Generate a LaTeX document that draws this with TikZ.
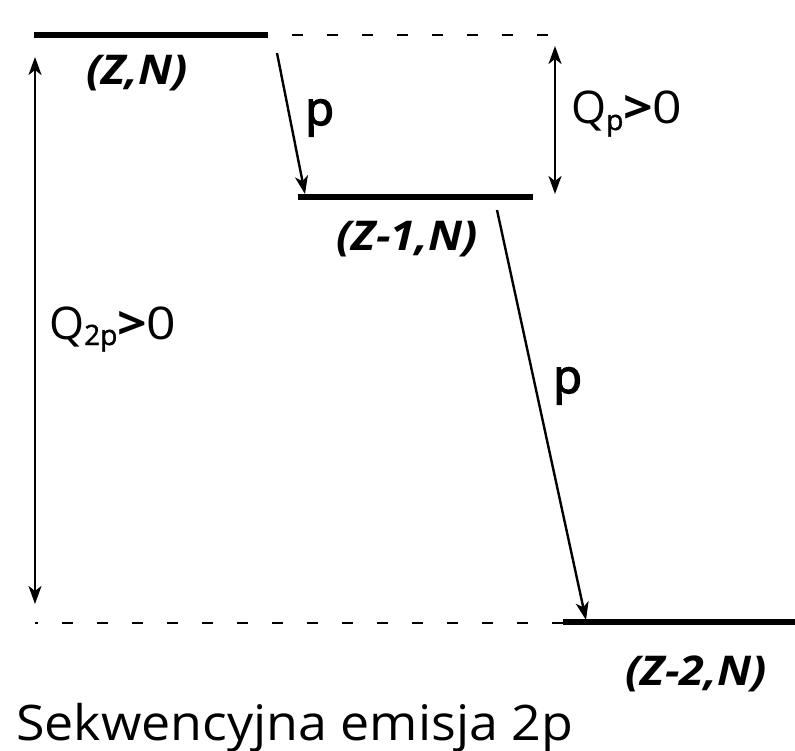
\documentclass[tikz,border=0pt]{standalone}
\usepackage{fontspec}
\usepackage{graphicx}
\setmainfont{Open Sans}
\newfontfamily\semibold[FakeBold=3]{Open Sans}
\newfontfamily\subbold[FakeBold=1.5]{Open Sans}
\usetikzlibrary{arrows.meta}
\newcommand\hstretch[2]{\scalebox{#1}[1]{#2}}
\newcommand\qsub[1]{\raisebox{-6pt}{{\fontsize{28}{28}\subbold #1}}}
\newcommand\qtail{\hstretch{1.15}{\bfseries >}\hstretch{1.15}{0}}
\begin{document}
\begin{tikzpicture}[x=1pt,y=-1pt,
  tip/.tip={Stealth[length=18pt,width=13pt,inset=5pt]},
  levelline/.style={line width=6.5pt},
  guide/.style={line width=2.2pt, dash pattern=on 11pt off 24pt},
  decay/.style={line width=2.4pt,-tip},
  gap/.style={line width=2.4pt,tip-tip},
  lvl/.style={font=\fontsize{41}{48}\selectfont\bfseries\itshape, anchor=base, inner sep=0pt},
  plab/.style={font=\fontsize{47}{50}\selectfont\semibold, anchor=base west, inner sep=0pt},
  qlab/.style={font=\fontsize{45}{50}\selectfont, anchor=base west, inner sep=0pt},
  titletext/.style={font=\fontsize{49}{56}\selectfont, anchor=base west, inner sep=0pt}]
\useasboundingbox (0,0) rectangle (795,751);
% levels
\coordinate (L1a) at (34,35);  \coordinate (L1b) at (268,35);
\coordinate (L2a) at (298,197); \coordinate (L2b) at (533,197);
\coordinate (L3a) at (563,622); \coordinate (L3b) at (795,622);
\draw[levelline] (L1a) -- (L1b);
\draw[levelline] (L2a) -- (L2b);
\draw[levelline] (L3a) -- (L3b);
% guides
\coordinate (G1a) at (292,35); \coordinate (G1b) at (552,35);
\coordinate (G2a) at (35,623); \coordinate (G2b) at (563,623);
\draw[guide] (G1a) -- (G1b);
\draw[guide, dash phase=8pt] (G2a) -- (G2b);
% decays
\coordinate (P1s) at (277,53); \coordinate (P1e) at (305,194);
\coordinate (P2s) at (497,210); \coordinate (P2e) at (586,620);
\draw[decay] (P1s) -- (P1e);
\draw[decay] (P2s) -- (P2e);
% Q arrows
\coordinate (QLa) at (35,57); \coordinate (QLb) at (35,604);
\coordinate (QRa) at (555,46); \coordinate (QRb) at (555,194);
\draw[gap] (QLa) -- (QLb);
\draw[gap] (QRa) -- (QRb);
% labels
\node[lvl] (n1) at (137,85) {\hstretch{1.1}{(Z,N)}};
\node[lvl] (n2) at (407,251) {\hstretch{1.1}{(Z-1,N)}};
\node[lvl] (n3) at (696,685) {\hstretch{1.1}{(Z-2,N)}};
\node[plab] (p1) at (305,125) {p};
\node[plab] (p2) at (553,393) {p};
\node[qlab] (q2p) at (49,339) {Q\qsub{2p}\qtail};
\node[qlab] (qp) at (571,124) {Q\qsub{p}\qtail};
\node[titletext] (title) at (16,740) {\hstretch{1.06}{Sekwencyjna emisja 2p}};
\end{tikzpicture}
\end{document}
